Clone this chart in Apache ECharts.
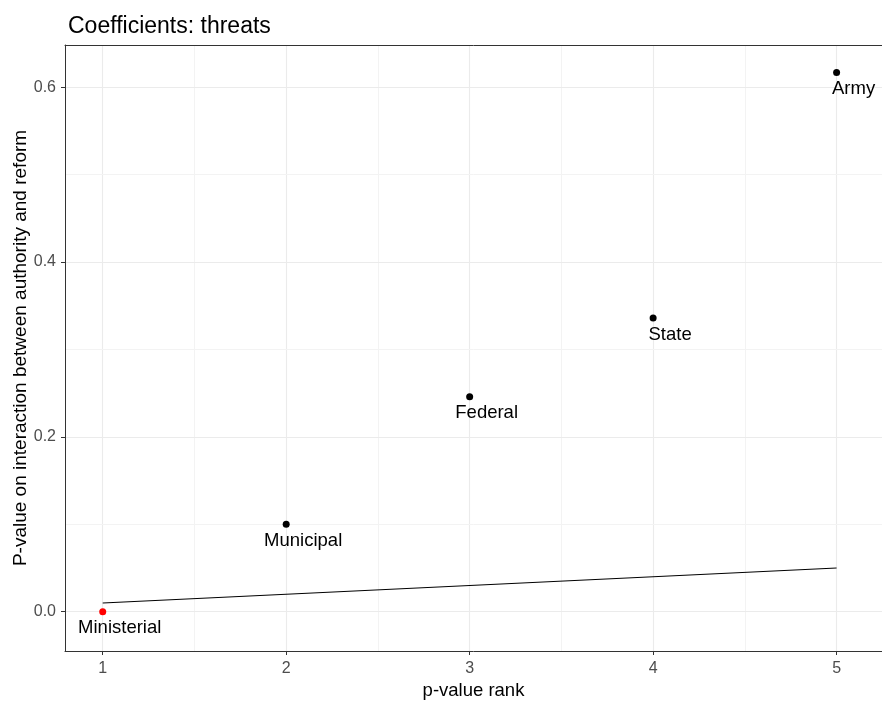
<!DOCTYPE html>
<html>
<head>
<meta charset="utf-8">
<script src="https://cdn.jsdelivr.net/npm/echarts@6/dist/echarts.min.js"></script>
<style>
  html, body { margin: 0; padding: 0; background: #fff; }
  #chart { width: 882px; height: 704px; }
</style>
</head>
<body>
<div id="chart"></div>
<script>
// Agencies ordered by p-value rank
const categories = ['Ministerial', 'Municipal', 'Federal', 'State', 'Army'];
const ranks = [1, 2, 3, 4, 5];
const pValues = [0.0, 0.100, 0.246, 0.336, 0.617];
// Benjamini-Hochberg threshold line (0.05 * rank / n)
const thresholdRanks = [1, 5];
const thresholdValues = [0.01, 0.05];
const significantColor = '#ff0000';

const xTicks = [1, 2, 3, 4, 5];
const yTicks = [0.0, 0.2, 0.4, 0.6];
const xMinorGrid = [1.5, 2.5, 3.5, 4.5];
const yMinorGrid = [0.1, 0.3, 0.5];

const FONT = 'Liberation Sans, Arial, sans-serif';
const chart = echarts.init(document.getElementById('chart'), null, { renderer: 'canvas' });

const points = categories.map((name, i) => ({
  name: name,
  value: [ranks[i], pValues[i]],
  itemStyle: { color: pValues[i] < thresholdValues[0] ? significantColor : '#000', opacity: 1 }
}));

const major = { color: '#ebebeb', width: 1.1, type: 'solid' };
const minor = { color: '#f3f3f3', width: 1, type: 'solid' };
const gridLines = [];
xTicks.forEach(v => gridLines.push({ xAxis: v, lineStyle: major }));
xMinorGrid.forEach(v => gridLines.push({ xAxis: v, lineStyle: minor }));
yTicks.forEach(v => gridLines.push({ yAxis: v, lineStyle: major }));
yMinorGrid.forEach(v => gridLines.push({ yAxis: v, lineStyle: minor }));

const X_MIN = 0.7944, X_MAX = 5.2475;

chart.setOption({
  animation: false,
  backgroundColor: '#fff',
  title: {
    text: 'Coefficients: threats',
    left: 63, top: 10,
    textStyle: { fontFamily: FONT, fontSize: 23, fontWeight: 'normal', color: '#000' }
  },
  grid: { left: 65, right: 0, top: 45, bottom: 53, containLabel: false, outerBoundsMode: 'none' },
  xAxis: [{
    type: 'value',
    min: X_MIN, max: X_MAX,
    name: 'p-value rank',
    nameLocation: 'middle', nameGap: 30, nameMoveOverlap: false,
    nameTextStyle: { fontFamily: FONT, fontSize: 18.5, color: '#000' },
    axisLine: { show: true, onZero: false, lineStyle: { color: '#333', width: 1 } },
    axisTick: { show: true, length: 4, customValues: xTicks, lineStyle: { color: '#333' } },
    axisLabel: { customValues: xTicks, margin: 10, fontFamily: FONT, fontSize: 16, color: '#4d4d4d' },
    splitLine: { show: false }
  }, {
    type: 'value', position: 'top',
    min: X_MIN, max: X_MAX,
    axisLine: { show: true, onZero: false, lineStyle: { color: '#333', width: 1 } },
    axisTick: { show: false }, axisLabel: { show: false }, splitLine: { show: false }
  }],
  yAxis: {
    type: 'value',
    min: -0.045, max: 0.6484,
    name: 'P-value on interaction between authority and reform',
    nameLocation: 'middle', nameGap: 35, nameRotate: 90, nameMoveOverlap: false,
    nameTextStyle: { fontFamily: FONT, fontSize: 19, color: '#000' },
    axisLine: { show: true, onZero: false, lineStyle: { color: '#333', width: 1 } },
    axisTick: { show: true, length: 4, customValues: yTicks, lineStyle: { color: '#333' } },
    axisLabel: {
      customValues: yTicks, margin: 9, fontFamily: FONT, fontSize: 16, color: '#4d4d4d',
      formatter: v => v.toFixed(1)
    },
    splitLine: { show: false }
  },
  series: [{
    type: 'line',
    data: thresholdRanks.map((r, i) => [r, thresholdValues[i]]),
    showSymbol: false,
    lineStyle: { color: '#000', width: 1.1 },
    markLine: {
      silent: true, symbol: 'none', label: { show: false },
      z: 0,
      data: gridLines
    },
    z: 3
  }, {
    type: 'scatter',
    data: points,
    symbolSize: 7,
    z: 4,
    label: {
      show: true,
      formatter: p => p.name,
      position: 'inside',
      offset: [17, 16.5],
      fontFamily: FONT, fontSize: 18.5, color: '#000'
    }
  }]
});
</script>
</body>
</html>
